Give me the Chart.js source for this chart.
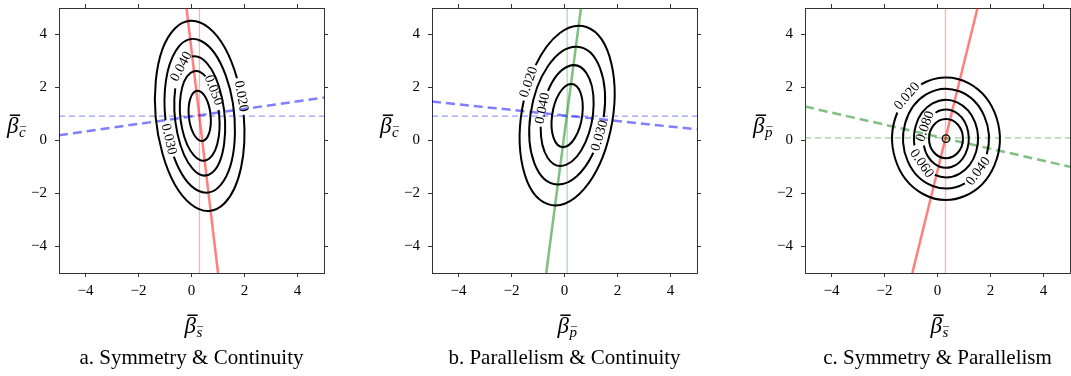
<!DOCTYPE html>
<html>
<head>
<meta charset="utf-8">
<script src="https://cdn.jsdelivr.net/npm/chart.js@4.4.1/dist/chart.umd.min.js"></script>
<style>
  html, body { margin: 0; padding: 0; background: #fff; overflow: hidden; }
  .panel { position: absolute; top: 0; width: 357px; height: 376px; }
</style>
</head>
<body>
<div class="panel" style="left:0px"><canvas id="chartA" width="357" height="376"></canvas></div>
<div class="panel" style="left:373px"><canvas id="chartB" width="357" height="376"></canvas></div>
<div class="panel" style="left:746px"><canvas id="chartC" width="357" height="376"></canvas></div>
<script>
// shared axis ticks
const tickValues = [-4, -2, 0, 2, 4];
const axisMin = -5;
const axisMax = 5;

// panel a : symmetry & continuity
const aSolidX = [-0.19, 1.0];
const aSolidY = [5, -5];
const aThinX = [0.3, 0.3];
const aThinY = [-5, 5];
const aDashX = [-5, 5];
const aDashY = [0.2, 1.62];
const aFlatX = [-5, 5];
const aFlatY = [0.92, 0.92];
const aCenter = [0.31, 0.93];
const aShear = -0.085;
const aLevels = ["0.020", "0.030", "0.040", "0.050", "0.060"];
const aHalfW = [1.69, 1.33, 0.96, 0.75, 0.42];
const aHalfH = [3.59, 2.9, 2.25, 1.69, 0.95];
const aLabelX = [1.85, -0.82, -0.45, 0.81, null];
const aLabelY = [1.66, 0.08, 2.98, 1.85, null];

// panel b : parallelism & continuity
const bSolidX = [0.62, -0.69];
const bSolidY = [5, -5];
const bThinX = [0.1, 0.1];
const bThinY = [-5, 5];
const bDashX = [-5, 5];
const bDashY = [1.47, 0.42];
const bFlatX = [-5, 5];
const bFlatY = [0.92, 0.92];
const bCenter = [0.1, 0.94];
const bShear = 0.13;
const bLevels = ["0.020", "0.030", "0.040", "0.050"];
const bHalfW = [1.79, 1.43, 1.0, 0.59];
const bHalfH = [3.39, 2.6, 1.9, 1.19];
const bLabelX = [-1.44, 1.3, -0.85, null];
const bLabelY = [2.29, 0.2, 1.22, null];

// panel c : symmetry & parallelism
const cSolidX = [1.51, -0.95];
const cSolidY = [5, -5];
const cThinX = [0.3, 0.3];
const cThinY = [-5, 5];
const cDashX = [-5, 5];
const cDashY = [1.28, -0.99];
const cFlatX = [-5, 5];
const cFlatY = [0.1, 0.1];
const cCenter = [0.32, 0.07];
const cShear = 0;
const cLevels = ["0.020", "0.040", "0.060", "0.080", "0.100", "0.120"];
const cHalfW = [2.03, 1.62, 1.21, 0.86, 0.64, 0.14];
const cHalfH = [2.31, 1.88, 1.46, 1.1, 0.74, 0.14];
const cLabelX = [-1.17, 1.47, -0.6, -0.57, null, null];
const cLabelY = [1.7, -1.09, -0.86, 0.59, null, null];

const RED = "255,0,0", BLUE = "0,0,255", GREEN = "0,128,0";

function lineSet(xs, ys, rgb, alpha, width, dash) {
  return {
    data: xs.map((x, i) => ({ x: x, y: ys[i] })),
    showLine: true,
    borderColor: "rgba(" + rgb + "," + alpha + ")",
    borderWidth: width,
    borderDash: dash,
    pointRadius: 0,
    fill: false,
    tension: 0,
    clip: 0
  };
}

function axis(pos, showLabels, size) {
  const horizontal = pos === "top" || pos === "bottom";
  return {
    type: "linear",
    position: pos,
    min: axisMin,
    max: axisMax,
    afterBuildTicks: s => { s.ticks = tickValues.map(v => ({ value: v })); },
    afterFit: s => {
      if (horizontal) s.height = size; else s.width = size;
      s.paddingTop = 0; s.paddingBottom = 0; s.paddingLeft = 0; s.paddingRight = 0;
    },
    ticks: {
      display: showLabels,
      color: "#000",
      padding: horizontal ? 5 : 8,
      font: { family: "Liberation Serif", size: 15 },
      callback: v => (v < 0 ? "\u2212" + Math.abs(v) : String(v))
    },
    grid: { display: true, drawOnChartArea: false, drawTicks: true, tickLength: 4, color: "#333", lineWidth: 1 },
    border: { display: true, color: "#333", width: 1 }
  };
}

// contour rings, with gaps where the level labels sit
function contourPlugin(p) {
  return {
    id: "contours",
    afterDatasetsDraw(chart) {
      const ctx = chart.ctx, xs = chart.scales.x, ys = chart.scales.y;
      const sx = xs.getPixelForValue(1) - xs.getPixelForValue(0);
      const sy = ys.getPixelForValue(1) - ys.getPixelForValue(0);
      const e = xs.getPixelForValue(p.center[0]);
      const f = ys.getPixelForValue(p.center[1]);
      ctx.save();
      ctx.font = '14px "Liberation Serif"';
      p.levels.forEach((lev, i) => {
        const hh = p.halfH[i];
        const w = Math.sqrt(Math.max(p.halfW[i] * p.halfW[i] - (p.shear * hh) * (p.shear * hh), 1e-6));
        const a = sx * w, c = sx * p.shear * hh, d = sy * hh;
        let t0 = 0, dt = 0, labelled = p.labelX[i] !== null;
        if (labelled) {
          const v = (p.labelY[i] - p.center[1]) / hh;
          const u = (p.labelX[i] - p.center[0] - p.shear * hh * v) / w;
          t0 = Math.atan2(v, u);
          const tx = -a * Math.sin(t0) + c * Math.cos(t0), ty = d * Math.cos(t0);
          dt = (ctx.measureText(lev).width / 2 + 3) / Math.hypot(tx, ty);
        }
        ctx.beginPath();
        ctx.save();
        ctx.transform(a, 0, c, d, e, f);
        ctx.arc(0, 0, 1, t0 + dt, t0 + 2 * Math.PI - dt);
        ctx.restore();
        ctx.lineWidth = hh < 0.3 ? 1.3 : 2;
        ctx.strokeStyle = "#000";
        ctx.stroke();
        if (labelled) {
          const px = a * Math.cos(t0) + c * Math.sin(t0) + e;
          const py = d * Math.sin(t0) + f;
          const tx = -a * Math.sin(t0) + c * Math.cos(t0), ty = d * Math.cos(t0);
          let ang = Math.atan2(ty, tx);
          if (ang > Math.PI / 2) ang -= Math.PI;
          if (ang <= -Math.PI / 2) ang += Math.PI;
          ctx.save();
          ctx.translate(px, py);
          ctx.rotate(ang);
          ctx.fillStyle = "#000";
          ctx.textAlign = "center";
          ctx.textBaseline = "middle";
          ctx.fillText(lev, 0, 0);
          ctx.restore();
        }
      });
      ctx.restore();
    }
  };
}

// beta with a bar, and a barred subscript
function drawSymbol(ctx, x, y, sub) {
  ctx.textBaseline = "alphabetic";
  ctx.textAlign = "left";
  ctx.font = 'italic 23px "Liberation Serif"';
  ctx.fillText("\u03B2", x, y);
  const w = ctx.measureText("\u03B2").width;
  ctx.textAlign = "center";
  ctx.font = 'bold 20px "Liberation Serif"';
  ctx.fillText("\u00AF", x + w * 0.7, y - 3);
  ctx.font = 'italic 15px "Liberation Serif"';
  const sw = ctx.measureText(sub).width;
  ctx.textAlign = "left";
  ctx.fillText(sub, x + w + 0.5, y + 4);
  ctx.textAlign = "center";
  ctx.font = '12px "Liberation Serif"';
  ctx.fillText("\u00AF", x + w + 0.5 + sw * 0.6, y + 3);
}

// titles and axis symbols
function decorPlugin(p) {
  return {
    id: "decor",
    afterDraw(chart) {
      const ctx = chart.ctx, area = chart.chartArea;
      const mid = (area.left + area.right) / 2;
      ctx.save();
      ctx.fillStyle = "#000";
      ctx.font = '21px "Liberation Serif"';
      ctx.textAlign = "center";
      ctx.textBaseline = "alphabetic";
      ctx.fillText(p.title, mid, 364);
      drawSymbol(ctx, mid - 7, 333, p.xSub);
      drawSymbol(ctx, 7, 133, p.ySub);
      ctx.restore();
    }
  };
}

function makePanel(id, p) {
  new Chart(document.getElementById(id), {
    type: "scatter",
    data: {
      datasets: [
        lineSet(p.thinX, p.thinY, p.solidRgb, 0.3, 1.3, []),
        lineSet(p.flatX, p.flatY, p.dashRgb, 0.4, 1.2, [6, 4]),
        lineSet(p.solidX, p.solidY, p.solidRgb, 0.5, 2.5, []),
        lineSet(p.dashX, p.dashY, p.dashRgb, 0.5, 2.5, [9, 5])
      ]
    },
    options: {
      responsive: false,
      animation: false,
      devicePixelRatio: 1,
      layout: { padding: 0 },
      plugins: { legend: { display: false }, tooltip: { enabled: false } },
      scales: {
        x: axis("bottom", true, 103),
        y: axis("left", true, 59),
        x2: axis("top", false, 8),
        y2: axis("right", false, 33)
      }
    },
    plugins: [contourPlugin(p), decorPlugin(p)]
  });
}

makePanel("chartA", {
  title: "a. Symmetry & Continuity", xSub: "s", ySub: "c",
  solidX: aSolidX, solidY: aSolidY, thinX: aThinX, thinY: aThinY,
  dashX: aDashX, dashY: aDashY, flatX: aFlatX, flatY: aFlatY,
  solidRgb: RED, dashRgb: BLUE,
  center: aCenter, shear: aShear, levels: aLevels, halfW: aHalfW, halfH: aHalfH,
  labelX: aLabelX, labelY: aLabelY
});

makePanel("chartB", {
  title: "b. Parallelism & Continuity", xSub: "p", ySub: "c",
  solidX: bSolidX, solidY: bSolidY, thinX: bThinX, thinY: bThinY,
  dashX: bDashX, dashY: bDashY, flatX: bFlatX, flatY: bFlatY,
  solidRgb: GREEN, dashRgb: BLUE,
  center: bCenter, shear: bShear, levels: bLevels, halfW: bHalfW, halfH: bHalfH,
  labelX: bLabelX, labelY: bLabelY
});

makePanel("chartC", {
  title: "c. Symmetry & Parallelism", xSub: "s", ySub: "p",
  solidX: cSolidX, solidY: cSolidY, thinX: cThinX, thinY: cThinY,
  dashX: cDashX, dashY: cDashY, flatX: cFlatX, flatY: cFlatY,
  solidRgb: RED, dashRgb: GREEN,
  center: cCenter, shear: cShear, levels: cLevels, halfW: cHalfW, halfH: cHalfH,
  labelX: cLabelX, labelY: cLabelY
});
</script>
</body>
</html>
